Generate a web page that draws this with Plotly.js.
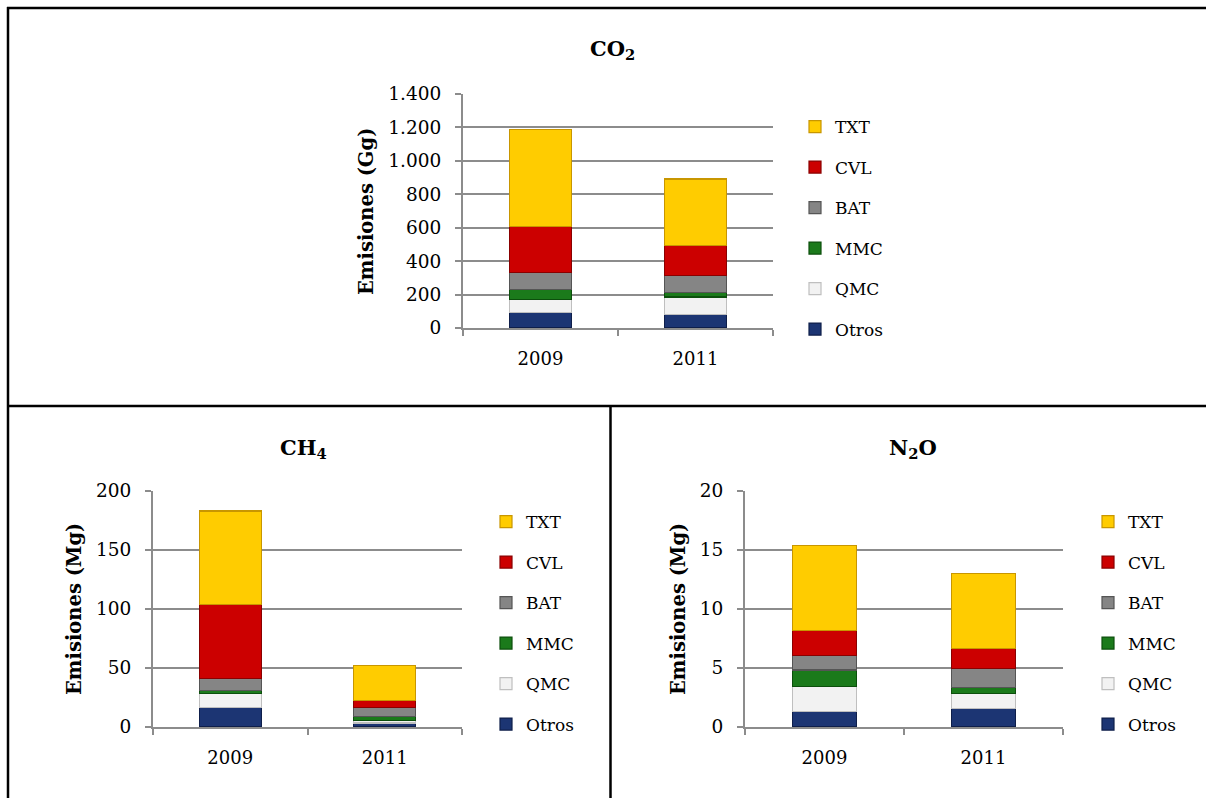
<!DOCTYPE html>
<html>
<head>
<meta charset="utf-8">
<script src="https://cdn.plot.ly/plotly-3.0.1.min.js"></script>
<style>html,body{margin:0;padding:0;background:#fff;}#chart{width:1206px;height:798px;}</style>
</head>
<body>
<div id="chart"></div>
<script>
// Categories and series
const years = ['2009', '2011'];
const seriesNames = ['Otros', 'QMC', 'MMC', 'BAT', 'CVL', 'TXT'];
const seriesColors = ['#1C3573', '#F2F2F2', '#1B7A1B', '#858585', '#CC0000', '#FFCC00'];
const seriesLines = ['#0E1E4A', '#BFBFBF', '#0C4F0C', '#555555', '#8A0000', '#C89600'];

// CO2 (Gg), values in series order: Otros, QMC, MMC, BAT, CVL, TXT
const co2_2009 = [92, 80, 59, 100, 275, 583];
const co2_2011 = [80, 106, 25, 104, 180, 397];
// CH4 (Mg)
const ch4_2009 = [16.4, 12.1, 2.4, 9.9, 62.7, 79.5];
const ch4_2011 = [3.4, 1.9, 3.4, 7.7, 5.9, 30.0];
// N2O (Mg)
const n2o_2009 = [1.33, 2.12, 1.38, 1.21, 2.15, 7.2];
const n2o_2011 = [1.58, 1.27, 0.48, 1.61, 1.73, 6.33];

// Titles / axis labels
const chartTitles = ['<b>CO<sub>2</sub></b>', '<b>CH<sub>4</sub></b>', '<b>N<sub>2</sub>O</b>'];
const yTitles = ['Emisiones (Gg)', 'Emisiones (Mg)', 'Emisiones (Mg)'];

const W = 1206, H = 798;
const px = v => v / W;
const py = v => 1 - v / H;
const FONT = 'DejaVu Serif';

const gases = [
  {v09: co2_2009, v11: co2_2011, xa: 'x', ya: 'y', lg: 'legend'},
  {v09: ch4_2009, v11: ch4_2011, xa: 'x2', ya: 'y2', lg: 'legend2'},
  {v09: n2o_2009, v11: n2o_2011, xa: 'x3', ya: 'y3', lg: 'legend3'}
];

const traces = [];
gases.forEach((g, gi) => {
  seriesNames.forEach((name, i) => {
    traces.push({
      type: 'bar',
      name: name,
      x: years,
      y: [g.v09[i], g.v11[i]],
      xaxis: g.xa,
      yaxis: g.ya,
      legend: g.lg,
      legendgroup: 'g' + gi + '_' + i,
      legendrank: 100 - i,
      marker: {color: seriesColors[i], line: {color: seriesLines[i], width: 1.2}},
      hoverinfo: 'x+y+name'
    });
  });
});

function xAxis(d, anchor) {
  return {
    domain: d, anchor: anchor, type: 'category',
    showgrid: false, showline: true, linecolor: '#8C8C8C', linewidth: 2,
    ticks: 'outside', tickson: 'boundaries', ticklen: 6, tickcolor: '#8C8C8C', tickwidth: 2,
    tickfont: {family: FONT, size: 18, color: '#000'}, ticklabelstandoff: 13,
    fixedrange: true
  };
}
function yAxis(d, anchor, range, dtick, sep) {
  return {
    domain: d, anchor: anchor, range: range, dtick: dtick, tick0: 0,
    showgrid: true, gridcolor: '#8C8C8C', gridwidth: 2,
    showline: true, linecolor: '#8C8C8C', linewidth: 2, zeroline: false,
    ticks: 'outside', ticklen: 6, tickcolor: '#8C8C8C', tickwidth: 2,
    tickfont: {family: FONT, size: 18.5, color: '#000'}, ticklabelstandoff: 10,
    separatethousands: sep, fixedrange: true
  };
}

const legendBase = {
  font: {family: FONT, size: 17, color: '#000'},
  traceorder: 'grouped', tracegroupgap: 15.4,
  bgcolor: 'rgba(0,0,0,0)', xanchor: 'left', yanchor: 'top',
  itemclick: false, itemdoubleclick: false
};

function ann(text, x, y, size, angle) {
  return {text: text, x: px(x), y: py(y), xref: 'paper', yref: 'paper', showarrow: false,
          xanchor: 'center', yanchor: 'middle', textangle: angle || 0,
          font: {family: FONT, size: size, color: '#000'}};
}

const layout = {
  width: W, height: H,
  margin: {l: 0, r: 0, t: 0, b: 0},
  paper_bgcolor: '#fff', plot_bgcolor: '#fff',
  barmode: 'stack', bargap: 0.6,
  separators: ',.',
  showlegend: true,
  font: {family: FONT, color: '#000'},
  xaxis: xAxis([px(463), px(773)], 'y'),
  yaxis: yAxis([py(328), py(94)], 'x', [0, 1400], 200, true),
  xaxis2: xAxis([px(153), px(462)], 'y2'),
  yaxis2: yAxis([py(727), py(491)], 'x2', [0, 200], 50, false),
  xaxis3: xAxis([px(745), px(1063)], 'y3'),
  yaxis3: yAxis([py(727), py(491)], 'x3', [0, 20], 5, false),
  legend: Object.assign({}, legendBase, {x: px(795), y: py(109)}),
  legend2: Object.assign({}, legendBase, {x: px(486), y: py(504)}),
  legend3: Object.assign({}, legendBase, {x: px(1088), y: py(504)}),
  annotations: [
    ann(chartTitles[0], 612, 50, 21),
    ann(chartTitles[1], 303, 448, 21),
    ann(chartTitles[2], 913, 448, 21),
    ann('<b>' + yTitles[0] + '</b>', 366, 212, 19.5, -90),
    ann('<b>' + yTitles[1] + '</b>', 74, 609, 19.5, -90),
    ann('<b>' + yTitles[2] + '</b>', 678, 609, 19.5, -90)
  ],
  shapes: [
    {type: 'line', xref: 'paper', yref: 'paper', x0: px(7), x1: 1, y0: py(8), y1: py(8), line: {color: '#000', width: 2.5}},
    {type: 'line', xref: 'paper', yref: 'paper', x0: px(8), x1: px(8), y0: py(7), y1: 0, line: {color: '#000', width: 2.5}},
    {type: 'line', xref: 'paper', yref: 'paper', x0: px(8), x1: 1, y0: py(406), y1: py(406), line: {color: '#000', width: 2.5}},
    {type: 'line', xref: 'paper', yref: 'paper', x0: px(610.5), x1: px(610.5), y0: py(406), y1: 0, line: {color: '#000', width: 2.5}}
  ]
};

Plotly.newPlot('chart', traces, layout, {displayModeBar: false});
</script>
</body>
</html>
